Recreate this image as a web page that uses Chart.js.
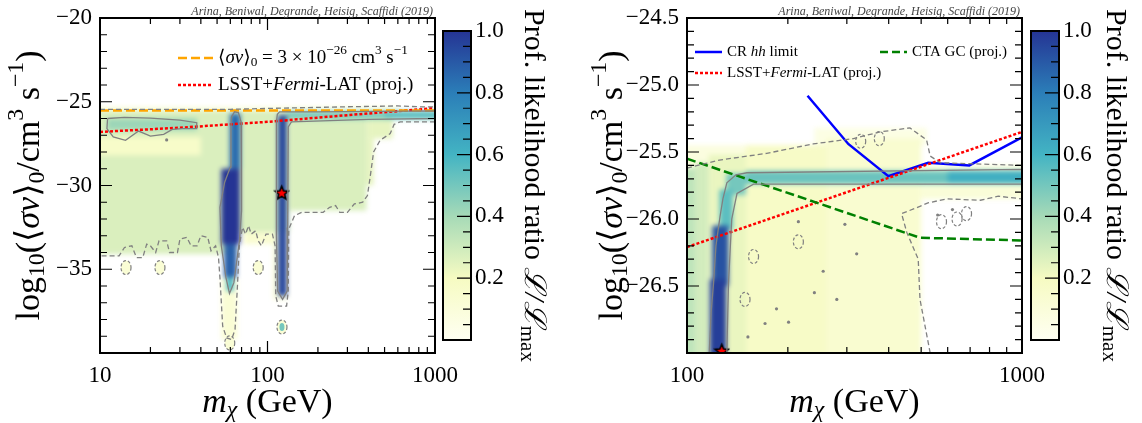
<!DOCTYPE html>
<html lang="en">
<head>
<meta charset="UTF-8">
<title>Profile likelihood scans</title>
<script src="https://cdn.jsdelivr.net/npm/chart.js"></script>
<style>
  body { margin: 0; background: #fff; }
  #wrap { position: relative; width: 1142px; height: 423px; overflow: hidden; }
  canvas { position: absolute; top: 0; }
</style>
</head>
<body>
<div id="wrap">
  <canvas id="left" width="480" height="423" style="left:0"></canvas>
  <canvas id="leftBar" width="138" height="423" style="left:442px"></canvas>
  <canvas id="right" width="480" height="423" style="left:580px"></canvas>
  <canvas id="rightBar" width="112" height="423" style="left:1030px"></canvas>
</div>
<script>
// ---- data (m in GeV, log10 <sigma v>) ----
const creditText = "Arina, Beniwal, Degrande, Heisig, Scaffidi (2019)";

// left panel
const xTicksLeft = [10, 100, 1000];
const yTicksLeft = [-35, -30, -25, -20];
const thermalMass = [10, 1000];
const thermalSigv = [-25.52, -25.52];
const lsstMassL = [10, 30, 100, 300, 1000];
const lsstSigvL = [-26.8, -26.55, -26.2, -25.8, -25.38];
const bestFitLeft = [121.6, -30.4];

// heatmap patches: [mMin, mMax, sigvMin, sigvMax, L/Lmax]
const cellsLeft = [
  [10, 600, -25.55, -25.3, 0.08],
  [10, 66, -34.1, -25.55, 0.27],
  [66, 135, -32.8, -25.55, 0.27],
  [135, 390, -31.5, -26.0, 0.27],
  [390, 560, -27.2, -26.0, 0.24],
  [390, 430, -30.0, -27.2, 0.24],
  [10, 40, -28.2, -27.1, 0.17],
  [11, 38, -26.7, -26.0, 0.42],
  [130, 1000, -26.05, -25.55, 0.48],
  [500, 1000, -25.95, -25.6, 0.56],
  [53, 66, -39.2, -35.5, 0.12],
  [108, 132, -36.8, -32.8, 0.12],
  [72, 108, -33.5, -32.8, 0.14],
  [59.5, 69, -29, -25.7, 0.85],
  [53, 68.5, -33.5, -29, 1.0],
  [55, 65.5, -35.5, -33.5, 0.88],
  [57, 62.5, -36.3, -35.5, 0.6],
  [115.5, 130.5, -36.6, -25.8, 0.95]
];
// isolated islands: [m, sigv, L/Lmax]
const blobsLeft = [[14.3, -34.9, 0.12], [22.8, -34.9, 0.12], [88, -34.9, 0.12], [59.5, -39.4, 0.12], [122, -38.45, 0.5]];
const specksLeft = [[25, -27.28]];

const contourLeftTop = [[10, -25.45], [60, -25.45], [100, -25.4], [300, -25.3], [600, -25.25], [800, -25.3], [1000, -25.3]];
const contourLeftBottom = [[1000, -26.2], [620, -26.2], [570, -26.35], [540, -26.9], [470, -27.3], [430, -28], [410, -29.5], [395, -30.6], [370, -31.0], [330, -31.1], [300, -31.6], [270, -31.6], [255, -31.2], [235, -31.3], [215, -31.6], [160, -31.6], [145, -31.8], [134, -32.6], [133, -36.3], [130, -37.2], [116, -37.2], [112, -36.6], [111, -33.6], [107, -32.9], [98, -32.9], [92, -33.6], [88, -33.3], [85, -32.7], [80, -32.9], [77, -32.4], [74, -32.9], [71, -32.5], [68, -33.5], [66, -36.2], [64, -38.6], [61, -39.2], [57, -39.1], [54, -38.4], [52, -35.5], [51, -34.3], [49, -33.6], [46, -33.9], [44, -33.1], [40, -33.0], [38, -33.6], [35, -33.6], [33, -33.1], [30, -33.2], [29, -34.0], [26, -34.0], [25, -33.3], [22.5, -33.3], [21.5, -34.0], [20, -33.6], [19, -33.5], [18, -34.3], [16.5, -34.3], [15.5, -33.6], [14, -33.7], [13, -34.2], [10, -34.2]];
const contourPatch = [[11.1, -26.0], [14, -25.93], [20, -25.98], [30, -26.1], [37.8, -26.25], [37.8, -26.6], [31, -26.6], [27, -26.65], [24, -26.95], [20, -27.05], [17, -26.75], [14.2, -27.3], [12, -27.1], [11, -26.6], [11.1, -26.0]];
const contourBand1 = [[61, -25.9], [63.5, -25.6], [67, -25.65], [69.5, -26.2], [70, -31.5], [68, -33.3], [63, -35.8], [59.3, -36.45], [56.5, -35.5], [53, -33.6], [52, -31.3], [55.5, -29.8], [60, -28.9], [60.5, -26.5], [61, -25.9]];
const contourBand2 = [[113, -26.2], [114.5, -25.75], [118, -25.6], [200, -25.6], [1000, -25.55], [1000, -26.0], [400, -26.05], [139, -26.2], [133, -26.5], [132, -32.5], [131, -36.3], [123, -36.8], [115, -36.3], [113, -33], [113, -26.2]];

// right panel
const xTicksRight = [100, 1000];
const yTicksRight = [-26.5, -26.0, -25.5, -25.0, -24.5];
const crMass = [229, 303, 399, 525, 696, 1000];
const crSigv = [-25.08, -25.44, -25.68, -25.58, -25.60, -25.39];
const ctaMass = [100, 496, 1000];
const ctaSigv = [-25.55, -26.14, -26.16];
const lsstMassR = [100, 1000];
const lsstSigvR = [-26.21, -25.35];
const bestFitRight = [127, -26.98];

const cellsRight = [
  [100, 240, -25.62, -25.45, 0.08],
  [240, 520, -25.45, -25.32, 0.06],
  [100, 106, -27, -25.62, 0.34],
  [106, 116, -27, -25.58, 0.29],
  [116, 150, -27, -25.52, 0.23],
  [150, 260, -27, -25.45, 0.18],
  [260, 500, -27, -25.4, 0.14],
  [500, 1000, -25.85, -25.6, 0.11],
  [131, 150, -25.82, -25.66, 0.5],
  [150, 1000, -25.74, -25.64, 0.52],
  [600, 1000, -25.73, -25.64, 0.62],
  [125, 137, -26.08, -25.78, 0.55],
  [119, 133, -26.5, -26.05, 0.92],
  [117, 131, -27, -26.45, 0.97]
];
const blobsRight = [[575, -26.02, null], [683, -25.96, null], [640, -26.0, null], [158, -26.28, null], [215, -26.17, null], [149, -26.6, null], [330, -25.42, null], [375, -25.4, null]];
const specksRight = [[215, -26.02], [296, -26.04], [255, -26.39], [321, -26.26], [185, -26.67], [171, -26.78], [201, -26.77], [152, -26.88], [240, -26.55], [280, -26.6], [560, -25.97], [620, -25.93]];

const contourRightTop = [[100, -25.62], [125, -25.56], [173, -25.51], [238, -25.44], [314, -25.4], [377, -25.35], [463, -25.32], [519, -25.41], [532, -25.53], [570, -25.58], [1000, -25.6]];
const contourRightLow = [[532, -27], [496, -26.6], [490, -26.3], [453, -26.1], [437, -25.96], [480, -25.92], [524, -25.88], [595, -25.85], [751, -25.86], [850, -25.83], [1000, -25.85]];
const contourRightBand = [[116.5, -27], [118, -26.7], [120, -26.48], [122, -26.2], [125.5, -25.98], [128, -25.85], [131.5, -25.73], [140, -25.67], [151, -25.655], [1000, -25.63], [1000, -25.74], [600, -25.74], [158, -25.74], [141, -25.81], [136, -26.0], [133, -26.48], [131.5, -27]];

// colour bar
const cbTicks = [0.2, 0.4, 0.6, 0.8, 1.0];
const cmapStops = [[0, '#fffff2'], [0.2, '#f6fbc2'], [0.4, '#a6dab7'], [0.6, '#43b4c3'], [0.8, '#2b7eb8'], [1, '#253494']];

// ---- helpers ----
const FONT = '"Liberation Serif", "DejaVu Serif", serif';

function hexRgb(h) {
  return [1, 3, 5].map(i => parseInt(h.substr(i, 2), 16));
}
function cmap(v) {
  for (let i = 1; i < cmapStops.length; i++) {
    if (v <= cmapStops[i][0]) {
      const [s0, c0] = cmapStops[i - 1], [s1, c1] = cmapStops[i];
      const t = (v - s0) / (s1 - s0);
      const a = hexRgb(c0), b = hexRgb(c1);
      return 'rgb(' + a.map((x, k) => Math.round(x + (b[k] - x) * t)).join(',') + ')';
    }
  }
  return cmapStops[cmapStops.length - 1][1];
}

function partFont(kind, size) {
  const it = kind.includes('i') ? 'italic ' : '';
  const s = (kind.includes('b') || kind.includes('p')) ? size * 0.7 : size;
  return it + s + 'px ' + FONT;
}
function partShift(kind, size) {
  if (kind.includes('b')) return size * 0.22;
  if (kind.includes('p')) return -size * 0.38;
  return 0;
}
function richWidth(ctx, parts, size) {
  let w = 0;
  parts.forEach(([t, k]) => { ctx.font = partFont(k, size); w += ctx.measureText(t).width; });
  return w;
}
function drawRich(ctx, parts, x, y, size) {
  ctx.textAlign = 'left';
  ctx.textBaseline = 'middle';
  parts.forEach(([t, k]) => {
    ctx.font = partFont(k, size);
    ctx.fillText(t, x, y + partShift(k, size));
    x += ctx.measureText(t).width;
  });
}

const yTitle = [['log', 'n'], ['10', 'b'], ['(⟨', 'n'], ['σv', 'i'], ['⟩', 'n'], ['0', 'b'], ['/cm', 'n'], ['3', 'p'], [' s', 'n'], ['−1', 'p'], [')', 'n']];
const xTitle = [['m', 'i'], ['χ', 'ib'], [' (GeV)', 'n']];
const cbTitle = [['Prof. likelihood ratio ', 'n'], ['ℒ/ℒ', 'i'], ['max', 'b']];

function starImage(size) {
  const c = document.createElement('canvas');
  c.width = c.height = size;
  const g = c.getContext('2d');
  const r = size / 2 - 1.5, ri = r * 0.45, cx = size / 2, cy = size / 2 + 1;
  g.beginPath();
  for (let i = 0; i < 10; i++) {
    const rr = i % 2 ? ri : r;
    const ang = -Math.PI / 2 + i * Math.PI / 5;
    g.lineTo(cx + rr * Math.cos(ang), cy + rr * Math.sin(ang));
  }
  g.closePath();
  g.fillStyle = '#ff0000';
  g.fill();
  g.lineWidth = 1.6;
  g.strokeStyle = '#000';
  g.stroke();
  return c;
}
const star = starImage(17);

const pairs = (ms, vs) => ms.map((m, i) => ({ x: m, y: vs[i] }));
const pts = list => list.map(([x, y]) => ({ x, y }));

function lineSet(data, color, width, dash) {
  return { data, borderColor: color, borderWidth: width, borderDash: dash || [], showLine: true, pointRadius: 0, tension: 0, fill: false };
}
function contourSet(list, dashed) {
  return lineSet(pts(list), '#808080', 1.3, dashed ? [5, 3] : []);
}

// overlay plugin: heatmap below datasets, frame/ticks/titles/legend on top
function makeOverlay(p) {
  return {
    id: 'overlay',
    beforeDatasetsDraw(chart) {
      const { ctx, chartArea: a, scales: { x, y } } = chart;
      // paint patches on an offscreen layer, then soften the whole layer at once
      const off = document.createElement('canvas');
      off.width = chart.width;
      off.height = chart.height;
      const g = off.getContext('2d');
      p.cells.forEach(([m0, m1, v0, v1, val]) => {
        let x0 = x.getPixelForValue(m0), x1 = x.getPixelForValue(m1);
        let y0 = y.getPixelForValue(v1), y1 = y.getPixelForValue(v0);
        if (x0 <= a.left + 0.5) x0 -= 10;
        if (x1 >= a.right - 0.5) x1 += 10;
        if (y0 <= a.top + 0.5) y0 -= 10;
        if (y1 >= a.bottom - 0.5) y1 += 10;
        g.fillStyle = cmap(val);
        g.fillRect(x0, y0, x1 - x0, y1 - y0);
      });
      ctx.save();
      ctx.beginPath();
      ctx.rect(a.left, a.top, a.right - a.left, a.bottom - a.top);
      ctx.clip();
      ctx.filter = 'blur(2.5px)';
      ctx.drawImage(off, 0, 0);
      ctx.filter = 'none';
      p.blobs.forEach(([m, v, val]) => {
        const cx = x.getPixelForValue(m), cy = y.getPixelForValue(v);
        if (val !== null) {
          ctx.beginPath();
          ctx.ellipse(cx, cy, 5, 7, 0, 0, Math.PI * 2);
          ctx.fillStyle = cmap(0.12);
          ctx.fill();
          if (val > 0.3) {
            ctx.beginPath();
            ctx.ellipse(cx, cy, 2.5, 4, 0, 0, Math.PI * 2);
            ctx.fillStyle = cmap(val);
            ctx.fill();
          }
        }
        ctx.beginPath();
        ctx.ellipse(cx, cy, 5, 7, 0, 0, Math.PI * 2);
        ctx.setLineDash([3, 2]);
        ctx.strokeStyle = '#808080';
        ctx.lineWidth = 1.2;
        ctx.stroke();
      });
      ctx.setLineDash([]);
      ctx.fillStyle = '#808080';
      p.specks.forEach(([m, v]) => {
        ctx.beginPath();
        ctx.arc(x.getPixelForValue(m), y.getPixelForValue(v), 1.6, 0, Math.PI * 2);
        ctx.fill();
      });
      ctx.restore();
    },
    afterDraw(chart) {
      const { ctx, chartArea: a, scales: { x, y } } = chart;
      ctx.save();
      // ticks on all four sides, pointing inward
      ctx.strokeStyle = '#000';
      ctx.lineWidth = 1.2;
      ctx.beginPath();
      const tick = (px, py, dx, dy) => { ctx.moveTo(px, py); ctx.lineTo(px + dx, py + dy); };
      x.ticks.forEach(t => {
        const px = x.getPixelForValue(t.value);
        tick(px, a.bottom, 0, -12); tick(px, a.top, 0, 12);
      });
      for (let d = x.min; d < x.max; d *= 10) {
        for (let k = 2; k <= 9; k++) {
          const px = x.getPixelForValue(d * k);
          tick(px, a.bottom, 0, -6); tick(px, a.top, 0, 6);
        }
      }
      p.yMajor.forEach(v => {
        const py = y.getPixelForValue(v);
        tick(a.left, py, 12, 0); tick(a.right, py, -12, 0);
      });
      const n = Math.round((y.max - y.min) / p.yMinorStep);
      for (let i = 1; i < n; i++) {
        const v = y.min + i * p.yMinorStep;
        const py = y.getPixelForValue(v);
        tick(a.left, py, 7, 0); tick(a.right, py, -7, 0);
      }
      ctx.stroke();
      ctx.lineWidth = 2;
      ctx.strokeRect(a.left, a.top, a.right - a.left, a.bottom - a.top);

      // axis titles
      ctx.fillStyle = '#000';
      const ts = 34;
      const wy = richWidth(ctx, yTitle, ts);
      ctx.save();
      ctx.translate(p.yTitleX, (a.top + a.bottom) / 2);
      ctx.rotate(-Math.PI / 2);
      drawRich(ctx, yTitle, -wy / 2, 0, ts);
      ctx.restore();
      const wx = richWidth(ctx, xTitle, ts);
      drawRich(ctx, xTitle, (a.left + a.right) / 2 - wx / 2, 403, ts);

      // credit line
      ctx.font = 'italic 12px ' + FONT;
      ctx.fillStyle = '#444';
      ctx.textAlign = 'right';
      ctx.textBaseline = 'alphabetic';
      ctx.fillText(creditText, a.right - 2, 15);

      // legend
      p.legend.forEach(e => {
        ctx.save();
        ctx.strokeStyle = e.color;
        ctx.lineWidth = 2.5;
        ctx.setLineDash(e.dash);
        ctx.beginPath();
        ctx.moveTo(e.x0, e.y);
        ctx.lineTo(e.x1, e.y);
        ctx.stroke();
        ctx.restore();
        ctx.fillStyle = '#000';
        drawRich(ctx, e.parts, e.x1 + 5, e.y, e.size);
      });
      ctx.restore();
    }
  };
}

function axisOptions(xMin, xMax, xTicks, yMin, yMax, yTicks, yWidth, yFmt) {
  const tickFont = { family: FONT, size: 23 };
  return {
    x: {
      type: 'logarithmic', min: xMin, max: xMax,
      afterBuildTicks: s => { s.ticks = xTicks.map(v => ({ value: v })); },
      afterFit: s => { s.height = 70; s.paddingLeft = 0; s.paddingRight = 0; },
      ticks: { callback: v => String(v), font: tickFont, color: '#000', padding: 9, autoSkip: false, maxRotation: 0 },
      grid: { display: false, drawTicks: false },
      border: { display: false }
    },
    y: {
      type: 'linear', min: yMin, max: yMax,
      afterBuildTicks: s => { s.ticks = yTicks.map(v => ({ value: v })); },
      afterFit: s => { s.width = yWidth; s.paddingTop = 0; s.paddingBottom = 0; },
      ticks: { callback: v => yFmt(v).replace('-', '−'), font: tickFont, color: '#000', padding: 8 },
      grid: { display: false, drawTicks: false },
      border: { display: false }
    }
  };
}

// ---- left panel ----
new Chart(document.getElementById('left'), {
  type: 'scatter',
  data: {
    datasets: [
      contourSet(contourLeftTop, true),
      contourSet(contourLeftBottom, true),
      contourSet(contourPatch, false),
      contourSet(contourBand1, false),
      contourSet(contourBand2, false),
      lineSet(pairs(thermalMass, thermalSigv), '#ffa500', 2.5, [9, 4]),
      lineSet(pairs(lsstMassL, lsstSigvL), '#ff0000', 2.5, [3, 2]),
      { data: [{ x: bestFitLeft[0], y: bestFitLeft[1] }], pointStyle: star, pointRadius: 8, showLine: false }
    ]
  },
  options: {
    responsive: false, animation: false, events: [],
    layout: { padding: { left: 0, top: 18, right: 45, bottom: 0 } },
    plugins: { legend: { display: false }, tooltip: { enabled: false } },
    scales: axisOptions(10, 1000, xTicksLeft, -40, -20, yTicksLeft, 100, v => v.toFixed(0))
  },
  plugins: [makeOverlay({
    cells: cellsLeft, blobs: blobsLeft, specks: specksLeft,
    yMajor: yTicksLeft, yMinorStep: 1, yTitleX: 30,
    legend: [
      { x0: 178, x1: 213, y: 58, color: '#ffa500', dash: [9, 4], size: 19,
        parts: [['⟨', 'n'], ['σv', 'i'], ['⟩', 'n'], ['0', 'b'], [' = 3 × 10', 'n'], ['−26', 'p'], [' cm', 'n'], ['3', 'p'], [' s', 'n'], ['−1', 'p']] },
      { x0: 178, x1: 213, y: 85, color: '#ff0000', dash: [3, 2], size: 19,
        parts: [['LSST+', 'n'], ['Fermi', 'i'], ['-LAT (proj.)', 'n']] }
    ]
  })]
});

// ---- right panel ----
new Chart(document.getElementById('right'), {
  type: 'scatter',
  data: {
    datasets: [
      contourSet(contourRightTop, true),
      contourSet(contourRightLow, true),
      contourSet(contourRightBand, false),
      lineSet(pairs(ctaMass, ctaSigv), '#008000', 2.5, [9, 4]),
      lineSet(pairs(lsstMassR, lsstSigvR), '#ff0000', 2.5, [3, 2]),
      lineSet(pairs(crMass, crSigv), '#0000ff', 2.5),
      { data: [{ x: bestFitRight[0], y: bestFitRight[1] }], pointStyle: star, pointRadius: 8, showLine: false, clip: 0 }
    ]
  },
  options: {
    responsive: false, animation: false, events: [],
    layout: { padding: { left: 0, top: 18, right: 38, bottom: 0 } },
    plugins: { legend: { display: false }, tooltip: { enabled: false } },
    scales: axisOptions(100, 1000, xTicksRight, -27, -24.5, yTicksRight, 107, v => v.toFixed(1))
  },
  plugins: [makeOverlay({
    cells: cellsRight, blobs: blobsRight, specks: specksRight,
    yMajor: yTicksRight, yMinorStep: 0.1, yTitleX: 33,
    legend: [
      { x0: 115, x1: 142, y: 52, color: '#0000ff', dash: [], size: 15,
        parts: [['CR ', 'n'], ['hh', 'i'], [' limit', 'n']] },
      { x0: 300, x1: 327, y: 52, color: '#008000', dash: [8, 4], size: 15,
        parts: [['CTA GC (proj.)', 'n']] },
      { x0: 115, x1: 142, y: 73, color: '#ff0000', dash: [3, 2], size: 15,
        parts: [['LSST+', 'n'], ['Fermi', 'i'], ['-LAT (proj.)', 'n']] }
    ]
  })]
});

// ---- colour bars ----
function makeColorbar(id, padRight, titleX) {
  const cbPlugin = {
    id: 'cbframe',
    afterDraw(chart) {
      const { ctx, chartArea: a, scales: { y } } = chart;
      ctx.save();
      ctx.strokeStyle = '#000';
      ctx.lineWidth = 1.2;
      ctx.beginPath();
      for (let i = 1; i < 20; i++) {
        const v = i * 0.05;
        const py = y.getPixelForValue(v);
        const len = i % 4 === 0 ? 14 : 8;
        ctx.moveTo(a.right, py);
        ctx.lineTo(a.right - len, py);
      }
      ctx.stroke();
      ctx.lineWidth = 2;
      ctx.strokeRect(a.left + 1, a.top, a.right - a.left - 1, a.bottom - a.top);
      const size = 30;
      const w = richWidth(ctx, cbTitle, size);
      ctx.fillStyle = '#000';
      ctx.translate(titleX, (a.top + a.bottom) / 2);
      ctx.rotate(Math.PI / 2);
      drawRich(ctx, cbTitle, -w / 2, 0, size);
      ctx.restore();
    }
  };
  return new Chart(document.getElementById(id), {
    type: 'bar',
    data: {
      labels: [''],
      datasets: [{
        data: [[0, 1]],
        backgroundColor: c => {
          const a = c.chart.chartArea;
          if (!a) return '#ffffff';
          const g = c.chart.ctx.createLinearGradient(0, a.bottom, 0, a.top);
          cmapStops.forEach(([s, col]) => g.addColorStop(s, col));
          return g;
        },
        borderWidth: 0, barPercentage: 1, categoryPercentage: 1
      }]
    },
    options: {
      responsive: false, animation: false, events: [],
      layout: { padding: { left: 0, top: 31, right: padRight, bottom: 83 } },
      plugins: { legend: { display: false }, tooltip: { enabled: false } },
      scales: {
        x: { display: false },
        y: {
          position: 'right', min: 0, max: 1,
          afterBuildTicks: s => { s.ticks = cbTicks.map(v => ({ value: v })); },
          afterFit: s => { s.width = 41; s.paddingTop = 0; s.paddingBottom = 0; },
          ticks: { callback: v => v.toFixed(1), font: { family: FONT, size: 23 }, color: '#000', padding: 4 },
          grid: { display: false, drawTicks: false },
          border: { display: false }
        }
      }
    },
    plugins: [cbPlugin]
  });
}
makeColorbar('leftBar', 68, 91);
makeColorbar('rightBar', 42, 85);
</script>
</body>
</html>
